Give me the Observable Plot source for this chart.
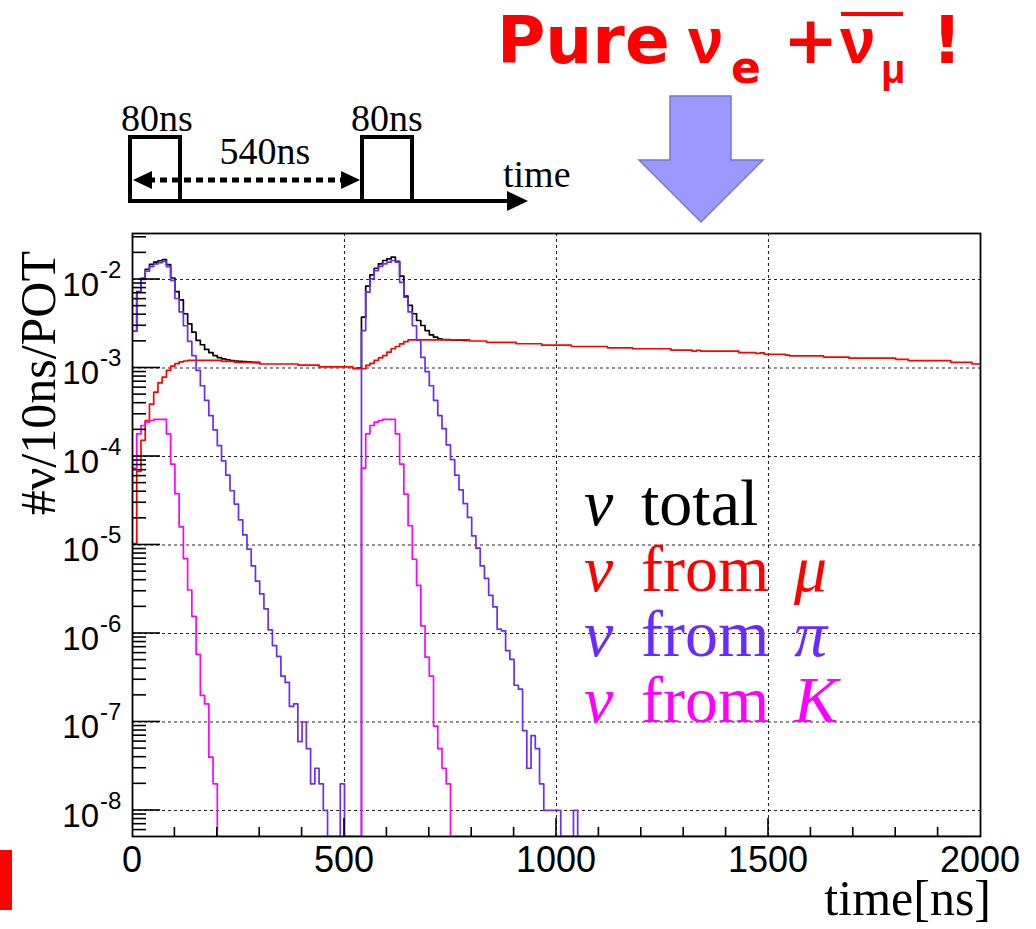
<!DOCTYPE html>
<html>
<head>
<meta charset="utf-8">
<script src="https://cdn.jsdelivr.net/npm/d3@7"></script>
<script src="https://cdn.jsdelivr.net/npm/@observablehq/plot@0.6"></script>
<style>
  body { margin: 0; background: #fff; }
  #chart { width: 1036px; height: 929px; }
  #chart svg { display: block; }
</style>
</head>
<body>
<div id="chart"></div>
<script>
// ---- binning and axis settings ----
const binWidth = 10;                 // ns per histogram bin
const timeDomain = [0, 2000];        // ns
const yDomain = [5.08e-9, 3.31e-2];  // neutrinos / 10 ns / POT
const decadeExponents = [-8, -7, -6, -5, -4, -3, -2];
const xTickLabels = [0, 500, 1000, 1500, 2000];
const xGridTimes = [500, 1000, 1500];
const xMinorStep = 100;

// ---- ν total (10 ns bins) ----
const totalPulse1Start = 0;
const totalPulse1 = [
  2.6e-3, 7.3e-3, 1.03e-2, 1.30e-2, 1.48e-2, 1.57e-2, 1.63e-2, 1.68e-2, 1.47e-2, 1.04e-2,
  7.3e-3, 5.9e-3, 4.1e-3, 3.16e-3, 2.54e-3, 2.05e-3, 1.83e-3, 1.62e-3, 1.49e-3, 1.38e-3,
  1.31e-3, 1.27e-3, 1.24e-3, 1.21e-3, 1.20e-3, 1.19e-3, 1.18e-3, 1.17e-3, 1.16e-3, 1.15e-3
];
const totalPulse2Start = 530;
const totalPulse2 = [
  1.0e-3, 3.75e-3, 8.4e-3, 1.13e-2, 1.34e-2, 1.50e-2, 1.64e-2, 1.71e-2, 1.79e-2, 1.60e-2,
  1.09e-2, 6.5e-3, 5.1e-3, 4.1e-3, 3.44e-3, 3.02e-3, 2.65e-3, 2.37e-3, 2.23e-3, 2.14e-3,
  2.10e-3, 2.09e-3, 2.08e-3, 2.07e-3, 2.06e-3, 2.05e-3
];

// ---- ν from μ: [start of run (ns), value] ----
const muRuns = [
  [0, 1.04e-5], [10, 6.8e-5], [20, 1.52e-4], [30, 2.55e-4], [40, 3.9e-4], [50, 5.33e-4],
  [60, 6.8e-4], [70, 7.9e-4], [80, 9.4e-4], [90, 1.05e-3], [100, 1.12e-3], [110, 1.17e-3],
  [120, 1.20e-3], [130, 1.22e-3], [210, 1.19e-3], [240, 1.16e-3], [300, 1.11e-3],
  [390, 1.08e-3], [440, 1.03e-3], [520, 9.8e-4], [550, 1.07e-3], [560, 1.13e-3],
  [570, 1.22e-3], [580, 1.30e-3], [590, 1.38e-3], [600, 1.51e-3], [610, 1.65e-3],
  [620, 1.75e-3], [630, 1.87e-3], [640, 1.99e-3], [650, 2.08e-3], [795, 2.02e-3],
  [835, 1.95e-3], [905, 1.88e-3], [965, 1.81e-3], [1035, 1.75e-3], [1120, 1.69e-3],
  [1180, 1.65e-3], [1270, 1.59e-3], [1320, 1.55e-3], [1330, 1.58e-3], [1340, 1.55e-3],
  [1430, 1.49e-3], [1470, 1.46e-3], [1480, 1.48e-3], [1490, 1.43e-3], [1540, 1.40e-3],
  [1550, 1.37e-3], [1630, 1.33e-3], [1690, 1.29e-3], [1800, 1.25e-3], [1830, 1.21e-3],
  [1930, 1.16e-3], [1980, 1.11e-3]
];

// ---- ν from π (10 ns bins) ----
const piPulse1Start = 0;
const piPulse1 = [
  2.6e-3, 7.2e-3, 1.0e-2, 1.24e-2, 1.40e-2, 1.50e-2, 1.55e-2, 1.60e-2, 1.40e-2, 9.8e-3,
  6.1e-3, 4.3e-3, 3.0e-3, 2.0e-3, 1.38e-3, 9.4e-4, 6.3e-4, 4.3e-4, 2.9e-4, 2.0e-4,
  1.33e-4, 8.9e-5, 6.15e-5, 4.1e-5, 2.9e-5, 1.92e-5, 1.3e-5, 9.0e-6, 5.8e-6, 3.9e-6,
  2.8e-6, 1.9e-6, 1.1e-6, 7.3e-7, 5.5e-7, 3.3e-7, 2.8e-7, 1.5e-7, 1.6e-7, 6e-8,
  1e-7, 5e-8, 2e-8, 3e-8, 2e-8, 1e-8, 0, 0, 0, 2e-8,
  0
];
const piPulse2Start = 540;
const piPulse2 = [
  2.65e-3, 7.2e-3, 1.02e-2, 1.26e-2, 1.41e-2, 1.50e-2, 1.57e-2, 1.64e-2, 1.57e-2, 9.3e-3,
  6.3e-3, 4.3e-3, 3.0e-3, 2.05e-3, 1.32e-3, 9.1e-4, 6.3e-4, 4.3e-4, 2.9e-4, 2.06e-4,
  1.35e-4, 9.2e-5, 6.15e-5, 4.2e-5, 2.94e-5, 2.05e-5, 1.27e-5, 9.2e-6, 5.8e-6, 4.2e-6,
  2.7e-6, 2.0e-6, 1.12e-6, 1.07e-6, 6.4e-7, 5.1e-7, 2.6e-7, 2.35e-7, 8e-8, 3e-8,
  7e-8, 5e-8, 2e-8, 1e-8, 1e-8, 1e-8, 1e-8, 0, 0, 0,
  1e-8, 0
];

// ---- ν from K (10 ns bins) ----
const kPulse1Start = 0;
const kPulse1 = [
  7.4e-5, 1.8e-4, 2.24e-4, 2.44e-4, 2.55e-4, 2.62e-4, 2.62e-4, 2.62e-4, 1.8e-4, 8.2e-5,
  3.8e-5, 1.6e-5, 7.0e-6, 3.1e-6, 1.56e-6, 5.8e-7, 2.0e-7, 1.6e-7, 4e-8, 2e-8,
  0
];
const kPulse2Start = 540;
const kPulse2 = [
  7.4e-5, 1.8e-4, 2.24e-4, 2.44e-4, 2.55e-4, 2.62e-4, 2.62e-4, 2.62e-4, 1.8e-4, 8.2e-5,
  3.75e-5, 1.65e-5, 6.9e-6, 3.5e-6, 1.22e-6, 5.4e-7, 3.3e-7, 9e-8, 5e-8, 3e-8,
  2e-8, 0
];

// ---- legend ----
const legendRows = [
  {word: "total", symbol: "", key: "total"},
  {word: "from", symbol: "μ", key: "mu"},
  {word: "from", symbol: "π", key: "pi"},
  {word: "from", symbol: "K", key: "k"}
];

const colors = {total: "#000000", mu: "#ff0000", pi: "#6a2bff", k: "#ff00ff"};

// turn bin contents into step rows; the trailing row closes the last bin
function binRows(start, values, end) {
  const rows = values.map((v, i) => ({t: start + i * binWidth, v}));
  const stop = end ?? start + values.length * binWidth;
  rows.push({t: stop, v: values[values.length - 1]});
  return rows;
}
function runRows(runs, end) {
  const rows = runs.map(([t, v]) => ({t, v}));
  rows.push({t: end, v: runs[runs.length - 1][1]});
  return rows;
}

const series = [
  {key: "total", parts: [binRows(totalPulse1Start, totalPulse1), binRows(totalPulse2Start, totalPulse2)]},
  {key: "mu", parts: [runRows(muRuns, timeDomain[1])]},
  {key: "pi", parts: [binRows(piPulse1Start, piPulse1, piPulse2Start).concat(binRows(piPulse2Start, piPulse2, timeDomain[1]))]},
  {key: "k", parts: [binRows(kPulse1Start, kPulse1, kPulse2Start).concat(binRows(kPulse2Start, kPulse2, timeDomain[1]))]}
];

// empty bins sit on the lower frame edge, as on a log-scaled histogram
const yOf = d => Math.max(d.v, yDomain[0]);
const decades = decadeExponents.map(e => Math.pow(10, e));

const lineMarks = [];
for (const s of series) {
  for (const rows of s.parts) {
    lineMarks.push(Plot.line(rows, {
      x: "t", y: yOf, curve: "step-after", stroke: colors[s.key],
      strokeWidth: 1.7, clip: true
    }));
  }
}

const chart = Plot.plot({
  width: 1036,
  height: 929,
  marginLeft: 132,
  marginRight: 56,
  marginTop: 233,
  marginBottom: 93,
  style: {background: "white", overflow: "visible"},
  x: {domain: timeDomain, axis: null},
  y: {type: "log", domain: yDomain, axis: null},
  marks: [
    Plot.gridY(decades, {stroke: "#000", strokeOpacity: 0.85, strokeWidth: 1.1, strokeDasharray: "3,3"}),
    Plot.gridX(xGridTimes, {stroke: "#000", strokeOpacity: 0.85, strokeWidth: 1.1, strokeDasharray: "3,3"}),
    ...lineMarks,
    Plot.frame({stroke: "#000", strokeWidth: 1.8})
  ]
});
document.getElementById("chart").append(chart);

const svg = d3.select(chart);
const xs = chart.scale("x");
const ys = chart.scale("y");
const xLeft = xs.apply(timeDomain[0]);
const xRight = xs.apply(timeDomain[1]);
const yBottom = ys.apply(yDomain[0]);
const yTop = ys.apply(yDomain[1]);

// everything added below is laid out from its start unless stated
const extras = svg.append("g").attr("text-anchor", "start");

// ---- inward tick marks ----
const ticks = extras.append("g").attr("stroke", "#000").attr("stroke-width", 1.6);
for (let t = timeDomain[0] + xMinorStep; t < timeDomain[1]; t += xMinorStep) {
  const major = xTickLabels.includes(t);
  const px = xs.apply(t);
  ticks.append("line").attr("x1", px).attr("x2", px)
    .attr("y1", yBottom).attr("y2", yBottom - (major ? 18 : 9));
}
for (let e = decadeExponents[0] - 1; e <= decadeExponents[decadeExponents.length - 1]; e++) {
  for (let m = 1; m <= 9; m++) {
    const v = m * Math.pow(10, e);
    if (v < yDomain[0] || v > yDomain[1]) continue;
    const py = ys.apply(v);
    ticks.append("line").attr("x1", xLeft).attr("x2", xLeft + (m === 1 ? 28 : 14))
      .attr("y1", py).attr("y2", py);
  }
}

// ---- tick labels ----
const labels = extras.append("g").attr("font-family", "'Liberation Sans', Arial, sans-serif").attr("fill", "#000");
for (const e of decadeExponents) {
  const py = ys.apply(Math.pow(10, e));
  labels.append("text").attr("x", 99).attr("y", py + 17).attr("font-size", 33)
    .attr("text-anchor", "end").text("10");
  labels.append("text").attr("x", 100).attr("y", py - 1).attr("font-size", 24)
    .attr("text-anchor", "start").text(String(e));
}
for (const t of xTickLabels) {
  labels.append("text").attr("x", xs.apply(t)).attr("y", 872).attr("font-size", 36)
    .attr("text-anchor", "middle").text(String(t));
}

// ---- axis titles ----
const serif = "'Liberation Serif', 'Times New Roman', serif";
extras.append("text").attr("font-family", serif).attr("font-size", 50)
  .attr("text-anchor", "end").attr("transform", `translate(55,${yTop + 18}) rotate(-90)`)
  .text("#ν/10ns/POT");
extras.append("text").attr("font-family", serif).attr("font-size", 50)
  .attr("text-anchor", "end").attr("x", xRight + 11).attr("y", 915)
  .text("time[ns]");

// ---- legend ----
const legend = extras.append("g").attr("font-family", serif).attr("font-size", 66);
legendRows.forEach((r, i) => {
  const base = 525 + i * 65.5;
  const g = legend.append("g").attr("fill", colors[r.key]);
  g.append("text").attr("x", 584).attr("y", base).attr("font-style", "italic").text("ν");
  g.append("text").attr("x", 641).attr("y", base).text(r.word);
  if (r.symbol) g.append("text").attr("x", 794).attr("y", base).attr("font-style", "italic").text(r.symbol);
});

// ---- beam timing sketch ----
const sketch = extras.append("g");
sketch.append("polyline").attr("points", "130,201 130,137 180,137 180,201")
  .attr("fill", "none").attr("stroke", "#000").attr("stroke-width", 4);
sketch.append("polyline").attr("points", "362,201 362,137 412,137 412,201")
  .attr("fill", "none").attr("stroke", "#000").attr("stroke-width", 4);
sketch.append("line").attr("x1", 128).attr("x2", 512).attr("y1", 201).attr("y2", 201)
  .attr("stroke", "#000").attr("stroke-width", 4);
sketch.append("polygon").attr("points", "507,191 528,201 507,211").attr("fill", "#000");
sketch.append("line").attr("x1", 148).attr("x2", 345).attr("y1", 180).attr("y2", 180)
  .attr("stroke", "#000").attr("stroke-width", 5).attr("stroke-dasharray", "7,5");
sketch.append("polygon").attr("points", "133,180 152,171 152,189").attr("fill", "#000");
sketch.append("polygon").attr("points", "360,180 341,171 341,189").attr("fill", "#000");
const sk = sketch.append("g").attr("font-family", serif).attr("font-size", 38).attr("fill", "#000");
sk.append("text").attr("x", 157).attr("y", 131).attr("text-anchor", "middle").text("80ns");
sk.append("text").attr("x", 387).attr("y", 131).attr("text-anchor", "middle").text("80ns");
sk.append("text").attr("x", 265).attr("y", 164).attr("text-anchor", "middle").text("540ns");
sk.append("text").attr("x", 503).attr("y", 187).text("time");

// ---- headline and pointer ----
const head = extras.append("g").attr("fill", "#ff0000").attr("font-weight", "bold")
  .attr("font-family", "'DejaVu Sans', Verdana, sans-serif");
head.append("text").attr("x", 497).attr("y", 63).attr("font-size", 66).text("Pure");
head.append("text").attr("x", 688).attr("y", 63).attr("font-size", 64)
  .attr("font-family", "'Liberation Sans', Arial, sans-serif").text("ν");
head.append("text").attr("x", 731).attr("y", 83).attr("font-size", 44).text("e");
head.append("text").attr("x", 783).attr("y", 63).attr("font-size", 66).text("+");
head.append("text").attr("x", 840).attr("y", 63).attr("font-size", 64)
  .attr("font-family", "'Liberation Sans', Arial, sans-serif").text("ν");
head.append("rect").attr("x", 841).attr("y", 12).attr("width", 62).attr("height", 4);
head.append("text").attr("x", 881).attr("y", 83).attr("font-size", 40)
  .attr("font-family", "'Liberation Sans', Arial, sans-serif").text("μ");
head.append("text").attr("x", 932).attr("y", 63).attr("font-size", 66).text("!");

extras.append("polygon")
  .attr("points", "670,96 731,96 731,160 763,160 701,222 639,160 670,160")
  .attr("fill", "#9999ff").attr("stroke", "#7777cc").attr("stroke-width", 1.5);

// clipped slide mark at the lower left
extras.append("rect").attr("x", 0).attr("y", 850).attr("width", 12).attr("height", 60).attr("fill", "#ff0000");
</script>
</body>
</html>
